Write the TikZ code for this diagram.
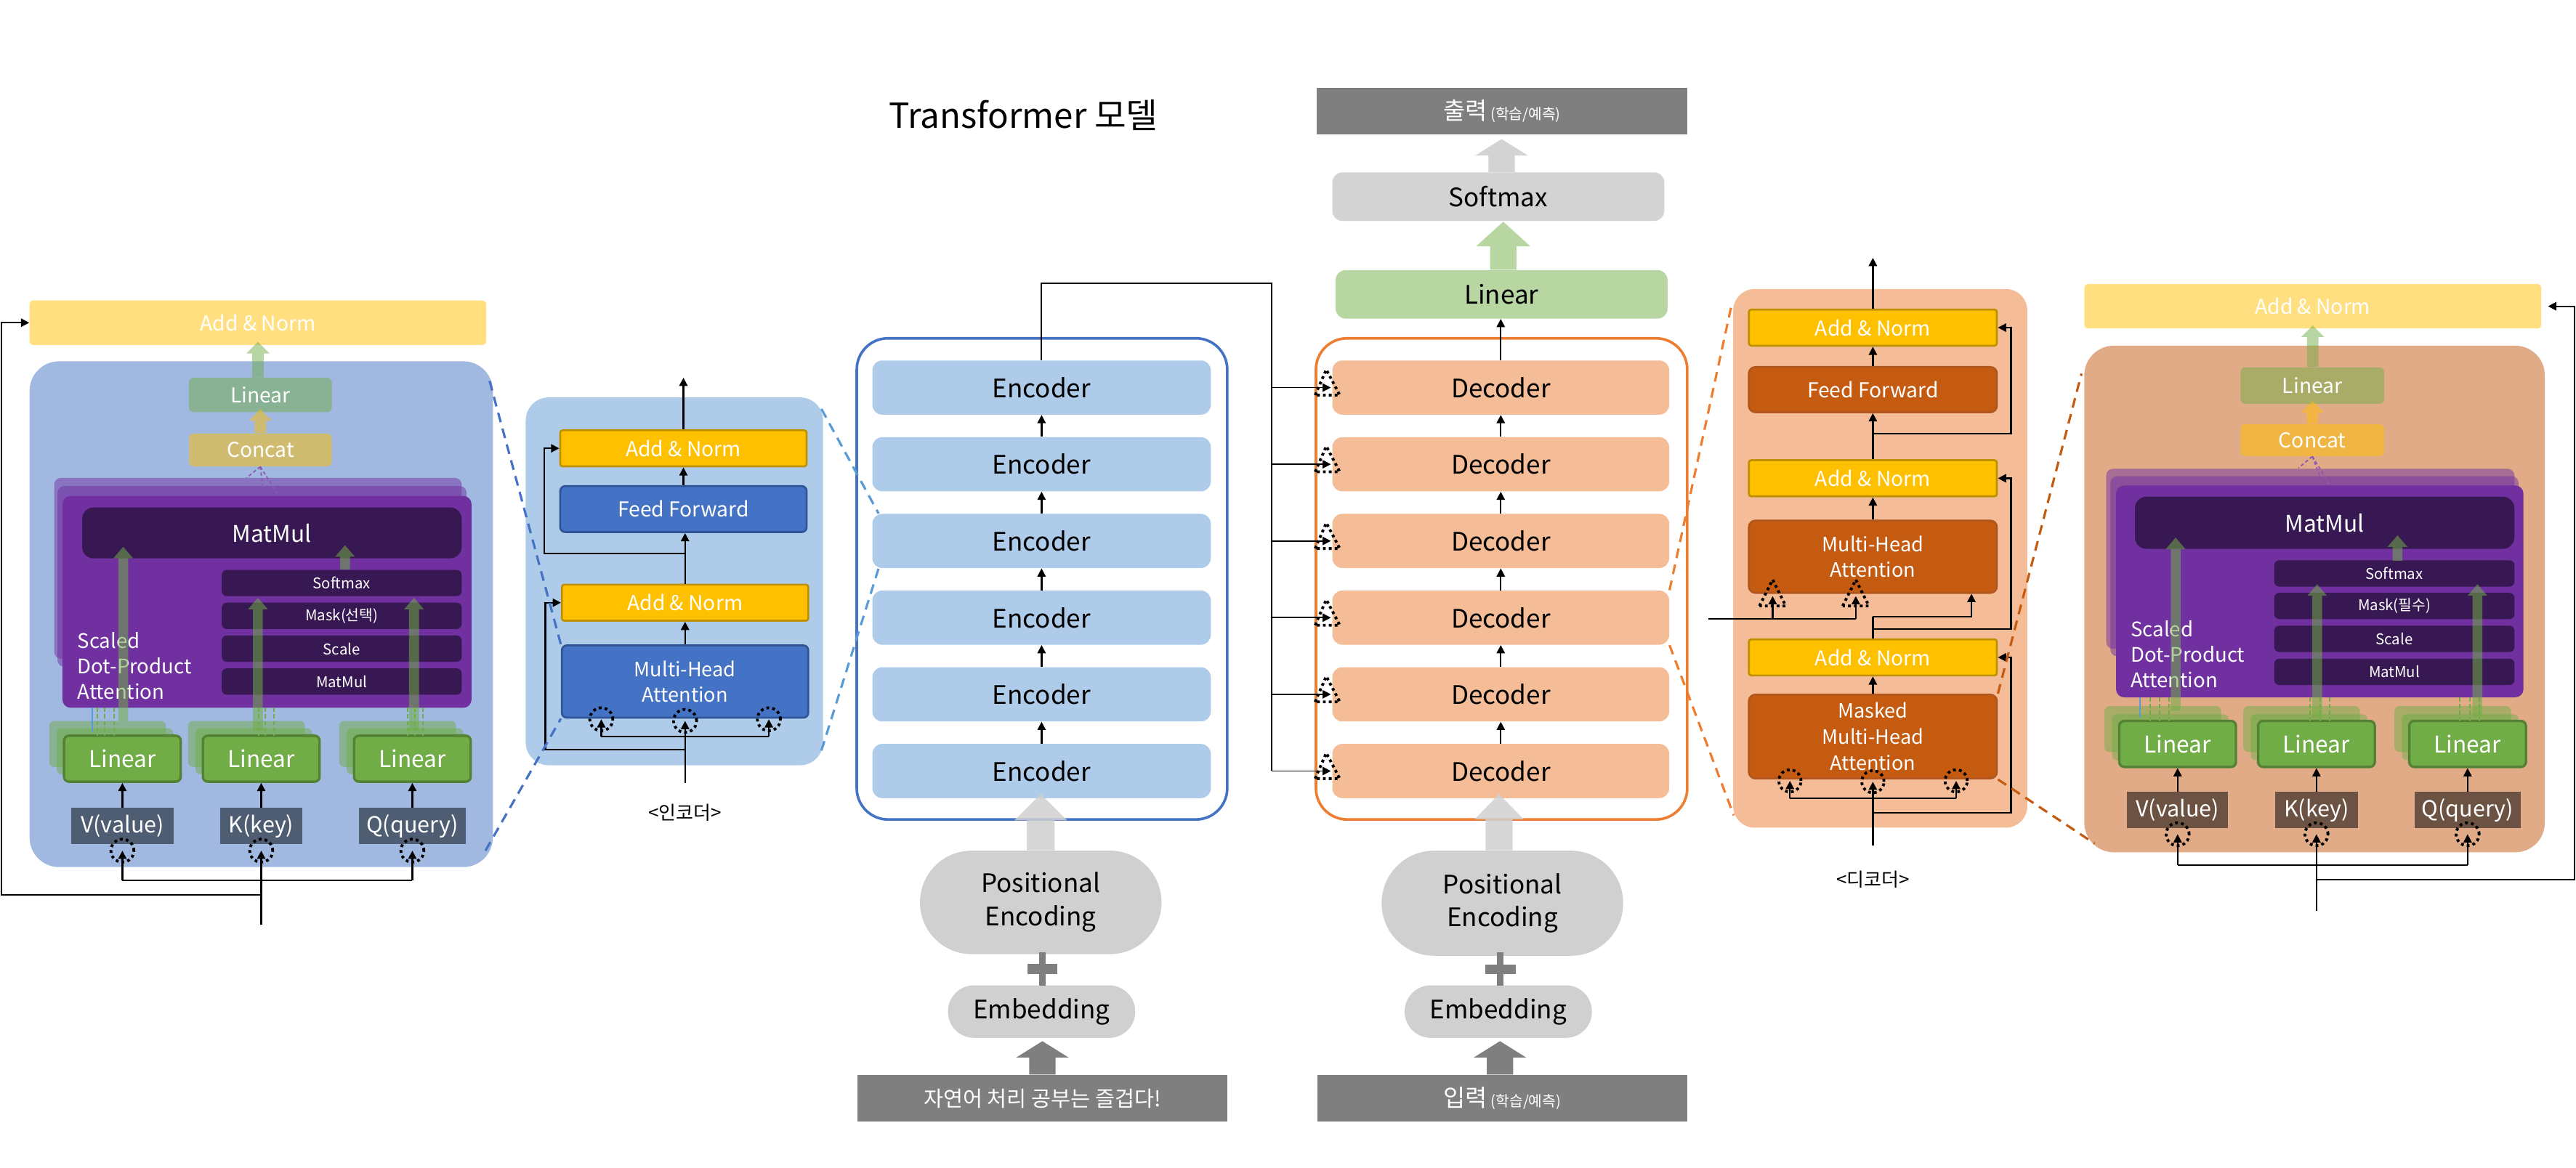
\documentclass[tikz,border=0pt]{standalone}
\usepackage{fontspec}
\setmainfont{Noto Sans CJK KR}
\usetikzlibrary{arrows.meta,positioning,calc}
\definecolor{panelblue}{HTML}{A1B9E1}
\definecolor{layerblue}{HTML}{AECBEA}
\definecolor{mhablue}{HTML}{4472C4}
\definecolor{mhablueline}{HTML}{2F5597}
\definecolor{dashblue}{HTML}{5B9BD5}
\definecolor{gold}{HTML}{FFC000}
\definecolor{goldline}{HTML}{BF9000}
\definecolor{lingreen}{HTML}{70AD47}
\definecolor{lingreenline}{HTML}{548235}
\definecolor{attpurple}{HTML}{7030A0}
\definecolor{attdark}{HTML}{381852}
\definecolor{vkqslate}{HTML}{4F5D73}
\definecolor{vkqbrown}{HTML}{6B5242}
\definecolor{peach}{HTML}{F5BD97}
\definecolor{rust}{HTML}{C55A11}
\definecolor{rustline}{HTML}{B0561E}
\definecolor{panelorange}{HTML}{E1AB88}
\definecolor{stackorange}{HTML}{ED7D31}
\definecolor{pegray}{HTML}{D0D0D0}
\definecolor{iogray}{HTML}{7F7F7F}
\definecolor{smgray}{HTML}{D3D3D3}
\definecolor{outgreen}{HTML}{B7D6A2}
\newcommand\ftitle{\fontsize{21}{25}\selectfont}
\newcommand\fbig{\fontsize{15.5}{20.3}\selectfont}
\newcommand\fmid{\fontsize{12.5}{15}\selectfont}
\newcommand\fmha{\fontsize{12}{15.8}\selectfont}
\newcommand\fsm{\fontsize{9}{11}\selectfont}
\newcommand\flin{\fontsize{14}{16}\selectfont}
\newcommand\fsdpa{\fontsize{12.2}{15.5}\selectfont}
\newcommand\fvkq{\fontsize{13.5}{16}\selectfont}
\newcommand\flabel{\fontsize{11.5}{13}\selectfont}
% fat block arrow pointing up: style, from, to, shaft, head, head length
\newcommand\fatarrow[6]{%
  \fill[#1] let \p1=(#2), \p2=(#3) in
    (\x2-#4/2,\y1) -- (\x2-#4/2,\y2-#6) -- (\x2-#5/2,\y2-#6) -- (\x2,\y2)
    -- (\x2+#5/2,\y2-#6) -- (\x2+#4/2,\y2-#6) -- (\x2+#4/2,\y1) -- cycle;}
\tikzset{
  blk/.style={rectangle,inner sep=0pt,align=center},
  panel/.style={blk},
  addnorm/.style={blk,fill=gold,draw=goldline,line width=1.2pt,rounded corners=1.5,
    minimum width=150,minimum height=22,text=white,font=\fmid},
  encff/.style={blk,fill=mhablue,draw=mhablueline,line width=1.2pt,rounded corners=3,
    minimum width=150,text=white,font=\fmid},
  decff/.style={blk,fill=rust,draw=rustline,line width=1.2pt,rounded corners=4,
    minimum width=151,text=white,font=\fmid},
  stackbox/.style={blk,rounded corners=6,minimum width=206,minimum height=33,font=\fbig},
  pill/.style={blk,fill=pegray,font=\fbig},
  iobox/.style={blk,fill=iogray,text=white,minimum width=225,minimum height=28.5},
  halfbox/.style={blk,fill opacity=0.5,text opacity=1,text=white,rounded corners=3,font=\fmid},
  attback/.style={blk,fill=attpurple,fill opacity=0.5,rounded corners=4},
  attfront/.style={blk,fill=attpurple,rounded corners=5},
  darkbox/.style={blk,fill=attdark,text=white,rounded corners=3,minimum height=16,
    minimum width=146,font=\fsm},
  bigdark/.style={blk,fill=attdark,text=white,rounded corners=7,minimum height=31,
    minimum width=231,font=\flin},
  linfront/.style={blk,fill=lingreen,draw=lingreenline,line width=1.5pt,rounded corners=3,
    minimum width=71,minimum height=28,text=white,font=\flin},
  linback/.style={blk,fill=lingreen,fill opacity=0.5,rounded corners=3,
    minimum width=71,minimum height=28},
  vkq/.style={blk,text=white,minimum height=22,font=\fvkq},
  dcirc/.style={circle,draw,inner sep=0pt,minimum size=14,line width=1.7pt,
    dash pattern=on 1.7pt off 1.9pt},
  dtri/.style={line width=1.7pt,dash pattern=on 1.7pt off 1.9pt},
  arr/.style={-{Triangle[length=5pt,width=5pt]},line width=1pt},
  wire/.style={line width=1pt},
  bdash/.style={draw=mhablue,line width=1.4pt,dash pattern=on 6pt off 4pt},
  lbdash/.style={draw=dashblue,line width=1.4pt,dash pattern=on 6pt off 4pt},
  odash/.style={draw=stackorange,line width=1.4pt,dash pattern=on 6pt off 4pt},
  rdash/.style={draw=rust,line width=1.4pt,dash pattern=on 6pt off 4pt},
  pdash/.style={draw=attpurple!80,line width=0.8pt,dash pattern=on 2pt off 1.5pt},
  gdash/.style={draw=lingreen,line width=0.9pt,dash pattern=on 2.5pt off 1.5pt},
  headarrow/.style={fill=lingreen,fill opacity=0.55},
}
\begin{document}
\begin{tikzpicture}[x=1pt,y=-1pt]
\useasboundingbox (0,0) rectangle (1568,711);

\node[font=\ftitle] (title) at (623,70) {Transformer 모델};

% panels
\node[panel,fill=panelblue,minimum width=282,minimum height=308,rounded corners=18] (panelL) at (159,374) {};
\node[panel,fill=layerblue,minimum width=181,minimum height=224,rounded corners=14] (panelE) at (410.5,354) {};
\node[panel,draw=mhablue,line width=1.6pt,minimum width=225.5,minimum height=293,rounded corners=19] (encStack) at (634.25,352.5) {};
\node[panel,draw=stackorange,line width=1.6pt,minimum width=226,minimum height=293,rounded corners=19] (decStack) at (914,352.5) {};
\node[panel,fill=peach,minimum width=179,minimum height=328,rounded corners=13] (panelD) at (1144.5,340) {};
\node[panel,fill=panelorange,minimum width=280.3,minimum height=308.5,rounded corners=18] (panelR) at (1408.85,364.75) {};

% ---- left: scaled dot-product attention (encoder)
\node[halfbox,fill=gold,minimum width=278,minimum height=27,rounded corners=2] (anL) at (157,196.5) {Add \& Norm};
\node[halfbox,fill=lingreen,minimum width=87,minimum height=21] (linL) at (158.5,240.5) {Linear};
\node[halfbox,fill=gold,minimum width=87,minimum height=20] (catL) at (158.5,274) {Concat};
\node[attback,minimum width=248,minimum height=110] (bk1L) at (157,346) {};
\node[attback,minimum width=249,minimum height=110] (bk2L) at (159.5,351) {};
\node[attfront,minimum width=249,minimum height=129] (attL) at (162.5,366.5) {};
\draw[pdash] (catL.south) -- (150,291);
\draw[pdash] (catL.south) -- (160,297);
\draw[pdash] (catL.south) -- (169,301);
\node[bigdark] (matL) at (165.5,324.5) {MatMul};
\node[darkbox] (smL) at (208,355) {Softmax};
\node[darkbox] (mkL) at (208,375) {Mask(선택)};
\node[darkbox] (scL) at (208,395) {Scale};
\node[darkbox] (mmL) at (208,415) {MatMul};
\node[anchor=west,align=left,inner sep=0pt,text=white,font=\fsdpa] (sdpaL) at (47,405.5) {Scaled\\Dot-Product\\Attention};
\foreach \n/\x/\w/\t in {V/74.5/62/V(value),K/159/50/K(key),Q/251/65/Q(query)}{
  \node[linback] at (\x-9,453) {};
  \node[linback] at (\x-4.5,457.5) {};
  \node[linfront] (linL\n) at (\x,462) {Linear};
  \node[vkq,fill=vkqslate,minimum width=\w] (inL\n) at (\x,503) {\t};
  \node[dcirc] (cL\n) at (\x,518) {};
  \draw[arr] (inL\n.north) -- (linL\n.south);
}
\foreach \x in {59.2,63.6,69.5,157.3,161.5,166.8,248.2,252.7,257.6}
  \draw[gdash] (\x,431) -- (\x,448);
\draw[draw=dashblue,line width=0.9pt] (56.3,431) -- (56.3,446);
\fatarrow{headarrow}{75,439}{75,333}{6pt}{12pt}{7pt}
\fatarrow{headarrow}{157,445}{157,364}{6pt}{12pt}{7pt}
\fatarrow{headarrow}{252,445}{252,364}{6pt}{12pt}{7pt}
\fatarrow{headarrow}{smL.north -| 210,0}{210,332}{6pt}{12pt}{7pt}
\fatarrow{fill=gold,fill opacity=0.5}{catL.north}{$(linL.south)+(0,-2)$}{7pt}{14pt}{7pt}
\fatarrow{fill=lingreen,fill opacity=0.5}{linL.north}{$(anL.south)+(0,-2)$}{7pt}{14pt}{7pt}
\coordinate (srcL) at (159,563);
\coordinate (brL) at (159,536);
\coordinate (resL) at (159,545);
\draw[arr] (srcL) -- (cLK.center);
\draw[wire] (cLV.center |- brL) -- (cLQ.center |- brL);
\draw[arr] (cLV.center |- brL) -- (cLV.center);
\draw[arr] (cLQ.center |- brL) -- (cLQ.center);
\draw[arr] (resL) -| ([xshift=-17pt]anL.west) -- (anL.west);

% ---- encoder layer
\node[addnorm] (an2E) at (416,273) {Add \& Norm};
\node[encff,minimum height=28] (ffE) at (416,310) {Feed Forward};
\node[addnorm] (an1E) at (417,367) {Add \& Norm};
\node[encff,minimum height=44,font=\fmha] (mhaE) at (417,415) {Multi-Head\\Attention};
\node[dcirc] (c1E) at (366,438) {};
\node[dcirc] (c2E) at (417,439) {};
\node[dcirc] (c3E) at (468,438) {};
\coordinate (outE) at (416,230);
\coordinate (r2E) at (417,337);
\coordinate (srcE) at (417,477);
\coordinate (brE) at (417,448.6);
\coordinate (r1E) at (417,456.5);
\draw[arr] (an2E.north) -- (outE);
\draw[arr] (ffE.north) -- (an2E.south);
\draw[arr] (an1E.north) -- (an1E.north |- ffE.south);
\draw[arr] (r2E) -| ([xshift=-9pt]an2E.west) -- (an2E.west);
\draw[arr] (mhaE.north) -- (an1E.south);
\draw[arr] (srcE) -- (c2E.center);
\draw[wire] (c1E.center |- brE) -- (c3E.center |- brE);
\draw[arr] (c1E.center |- brE) -- (c1E.center);
\draw[arr] (c3E.center |- brE) -- (c3E.center);
\draw[arr] (r1E) -| ([xshift=-9.5pt]an1E.west) -- (an1E.west);
\node[font=\flabel] (lblE) at (417,495) {<인코더>};

% ---- encoder / decoder stacks
\foreach \i in {1,...,6}{
  \node[stackbox,fill=layerblue] (enc\i) at (634,{236+46.7*(\i-1)}) {Encoder};
  \node[stackbox,fill=peach,minimum width=205] (dec\i) at (913.5,{236+46.7*(\i-1)}) {Decoder};
  \draw[dtri] ($(dec\i.west)+(-10.3,4.6)$) -- ++(6.8,-15.6) -- ++(8.2,15.6) -- cycle;
}
\foreach \i/\j in {1/2,2/3,3/4,4/5,5/6}{
  \draw[arr] (enc\j.north) -- (enc\i.south);
  \draw[arr] (dec\j.north) -- (dec\i.south);
}
\coordinate (bus) at (774,172.5);
\draw[line width=0.8pt] (enc1.north) |- (bus) -- (bus |- dec6.west);
\foreach \i in {1,...,6}
  \draw[arr,line width=0.8pt] (bus |- dec\i.west) -- ($(dec\i.west)+(-0.7,0)$);

\node[stackbox,fill=outgreen,minimum width=202,minimum height=29.5] (linOut) at (914,179.25) {Linear};
\node[stackbox,fill=smgray,minimum width=202,minimum height=29.5] (smOut) at (912,119.75) {Softmax};
\node[iobox,minimum width=225.5,font=\fsm] (outBox) at (914.25,67.75) {{\fontsize{14.5}{16}\selectfont 출력} (학습/예측)};
\draw[arr] (dec1.north) -- (dec1.north |- linOut.south);
\fatarrow{fill=outgreen}{linOut.north}{915,135}{16pt}{33pt}{15pt}
\fatarrow{fill=smgray}{smOut.north}{914,84.7}{16pt}{32pt}{10pt}

% inputs
\node[pill,minimum width=147,minimum height=63,rounded corners=31.4] (peE) at (633.5,549.5) {Positional\\Encoding};
\node[pill,minimum width=114,minimum height=32,rounded corners=15.9] (embE) at (634,616) {Embedding};
\fill[iogray] (625.5,587) rectangle (643.5,593);
\fill[iogray] (632.7,580) rectangle (636.5,600);
\node[iobox,font=\fontsize{13}{15}\selectfont] (srcText) at (634.5,668.8) {자연어 처리 공부는 즐겁다!};
\fatarrow{fill=iogray}{srcText.north}{634.5,634}{16pt}{32pt}{10pt}
\fatarrow{fill=pegray,fill opacity=0.85}{peE.north}{633.5,483.5}{17pt}{32pt}{16pt}

\node[pill,minimum width=147,minimum height=64,rounded corners=31.9] (peD) at (914.5,550) {Positional\\Encoding};
\node[pill,minimum width=114,minimum height=32,rounded corners=15.9] (embD) at (912,616) {Embedding};
\fill[iogray] (904,587.5) rectangle (922.6,593);
\fill[iogray] (911.3,580) rectangle (915,600);
\node[iobox,font=\fsm] (tgtText) at (914.5,668.8) {{\fontsize{14.5}{16}\selectfont 입력} (학습/예측)};
\fatarrow{fill=iogray}{tgtText.north}{913,634}{16pt}{32pt}{10pt}
\fatarrow{fill=pegray,fill opacity=0.85}{peD.north}{912.5,483.5}{16.5pt}{30pt}{15.5pt}

% ---- decoder layer
\node[addnorm,minimum width=151] (an3D) at (1140,199.5) {Add \& Norm};
\node[decff,minimum height=27.5] (ffD) at (1140,237.25) {Feed Forward};
\node[addnorm,minimum width=151] (an2D) at (1140,291.25) {Add \& Norm};
\node[decff,minimum height=44,font=\fmha] (mhaD) at (1140,339) {Multi-Head\\Attention};
\node[addnorm,minimum width=151] (an1D) at (1140,400.3) {Add \& Norm};
\node[decff,minimum height=51,font=\fmha] (mmhaD) at (1140,448.5) {Masked\\Multi-Head\\Attention};
\node[dcirc,minimum size=13.5] (c1D) at (1089.5,475.5) {};
\node[dcirc,minimum size=13.5] (c2D) at (1140,476) {};
\node[dcirc,minimum size=13.5] (c3D) at (1190.7,475.5) {};
\coordinate (outD) at (1140,157);
\coordinate (r3D) at (1140,264);
\coordinate (kD) at (1140,375.5);
\coordinate (r2D) at (1140,383);
\coordinate (memD) at (1040,376.8);
\coordinate (t1D) at (1079,363);
\coordinate (t2D) at (1129.6,363);
\coordinate (srcD) at (1140,515);
\coordinate (brD) at (1140,486);
\coordinate (r1D) at (1140,495);
\draw[arr] (an3D.north) -- (outD);
\draw[arr] (ffD.north) -- (an3D.south);
\draw[arr] (an2D.north) -- (ffD.south);
\draw[arr] (r3D) -| ([xshift=8pt]an3D.east) -- (an3D.east);
\draw[arr] (mhaD.north) -- (an2D.south);
\draw[wire] (an1D.north) -- (kD);
\draw[arr] (kD) -| ([xshift=60pt]mhaD.south);
\draw[arr] (r2D) -| ([xshift=8pt]an2D.east) -- (an2D.east);
\draw[wire] (memD) -- (memD -| t2D);
\draw[arr] (memD -| t1D) -- (t1D);
\draw[arr] (memD -| t2D) -- (t2D);
\foreach \t in {t1D,t2D}
  \draw[dtri] ($(\t)+(-8,6)$) -- ($(\t)+(0,-10)$) -- ($(\t)+(8,6)$) -- cycle;
\draw[arr] (mmhaD.north) -- (an1D.south);
\draw[arr] (srcD) -- (c2D.center);
\draw[wire] (c1D.center |- brD) -- (c3D.center |- brD);
\draw[arr] (c1D.center |- brD) -- (c1D.center);
\draw[arr] (c3D.center |- brD) -- (c3D.center);
\draw[arr] (r1D) -| ([xshift=8pt]an1D.east) -- (an1D.east);
\node[font=\flabel] (lblD) at (1140,535.6) {<디코더>};

% ---- right: scaled dot-product attention (decoder)
\node[halfbox,fill=gold,minimum width=278,minimum height=27,rounded corners=2] (anR) at (1407.75,186.5) {Add \& Norm};
\node[halfbox,fill=lingreen,minimum width=87.5,minimum height=22.4] (linR) at (1407.5,234.8) {Linear};
\node[halfbox,fill=gold,minimum width=87.5,minimum height=19.5] (catR) at (1407.5,268) {Concat};
\node[attback,minimum width=248.5,minimum height=109.5] (bk1R) at (1406.25,340.25) {};
\node[attback,minimum width=248.4,minimum height=109.6] (bk2R) at (1408.8,344.8) {};
\node[attfront,minimum width=248,minimum height=129] (attR) at (1412,360.15) {};
\draw[pdash] (catR.south) -- (1399,285);
\draw[pdash] (catR.south) -- (1412,290);
\draw[pdash] (catR.south) -- (1418,295);
\node[bigdark,minimum height=31.7] (matR) at (1415,318.35) {MatMul};
\node[darkbox,minimum width=146.2] (smR) at (1457.4,349.2) {Softmax};
\node[darkbox,minimum width=146.2] (mkR) at (1457.4,369) {Mask(필수)};
\node[darkbox,minimum width=146.2] (scR) at (1457.4,389) {Scale};
\node[darkbox,minimum width=146.2] (mmR) at (1457.4,409.15) {MatMul};
\node[anchor=west,align=left,inner sep=0pt,text=white,font=\fsdpa] (sdpaR) at (1296.8,398.5) {Scaled\\Dot-Product\\Attention};
\foreach \n/\x/\w/\t in {V/1325.5/61.3/V(value),K/1410/50.7/K(key),Q/1502/64.6/Q(query)}{
  \node[linback] at (\x-9,444) {};
  \node[linback] at (\x-4.5,449) {};
  \node[linfront] (linR\n) at (\x,453) {Linear};
  \node[vkq,fill=vkqbrown,minimum width=\w] (inR\n) at (\x,493.25) {\t};
  \node[dcirc] (cR\n) at (\x,508) {};
  \draw[arr] (inR\n.north) -- (linR\n.south);
}
\foreach \x in {1308.6,1314.7,1320.2,1406.2,1412.3,1418,1497,1503.3,1509}
  \draw[gdash] (\x,424.6) -- (\x,439);
\draw[draw=dashblue,line width=0.9pt] (1302.8,424.6) -- (1302.8,437);
\fatarrow{headarrow}{1324.3,432.7}{1324.3,327.4}{6pt}{12pt}{7pt}
\fatarrow{headarrow}{1410.4,436.6}{1410.4,355.8}{6pt}{12pt}{7pt}
\fatarrow{headarrow}{1508,436.6}{1508,355.8}{6pt}{12pt}{7pt}
\fatarrow{headarrow}{1459.3,341.4}{1459.3,326}{6pt}{12pt}{7pt}
\fatarrow{fill=gold,fill opacity=0.5}{catR.north}{$(linR.south)+(0,-2)$}{7pt}{14pt}{7pt}
\fatarrow{fill=lingreen,fill opacity=0.5}{linR.north}{$(anR.south)+(0,-2)$}{7pt}{14pt}{7pt}
\coordinate (srcR) at (1410,554.6);
\coordinate (brR) at (1410,526.7);
\coordinate (resR) at (1410,535.6);
\draw[arr] (srcR) -- (cRK.center);
\draw[wire] (cRV.center |- brR) -- (cRQ.center |- brR);
\draw[arr] (cRV.center |- brR) -- (cRV.center);
\draw[arr] (cRQ.center |- brR) -- (cRQ.center);
\draw[arr,shorten >=4pt] (resR) -| ([xshift=20pt]anR.east) -- (anR.east);

% ---- zoom guides
\draw[bdash] (298,232) -- (mhaE.north west);
\draw[bdash] (295.5,518) -- (mhaE.south west);
\draw[lbdash] (500,249) -- ($(enc3.north west)+(4,0)$);
\draw[lbdash] (500,457) -- ($(enc3.south west)+(4,0)$);
\draw[odash] (dec4.north east) -- (1053.8,186.6);
\draw[odash] (dec4.south east) -- (1055.3,496.5);
\draw[rdash] (mmhaD.north east) -- (1267,227.5);
\draw[rdash] (mmhaD.south east) -- (1275,513.7);
\end{tikzpicture}
\end{document}
